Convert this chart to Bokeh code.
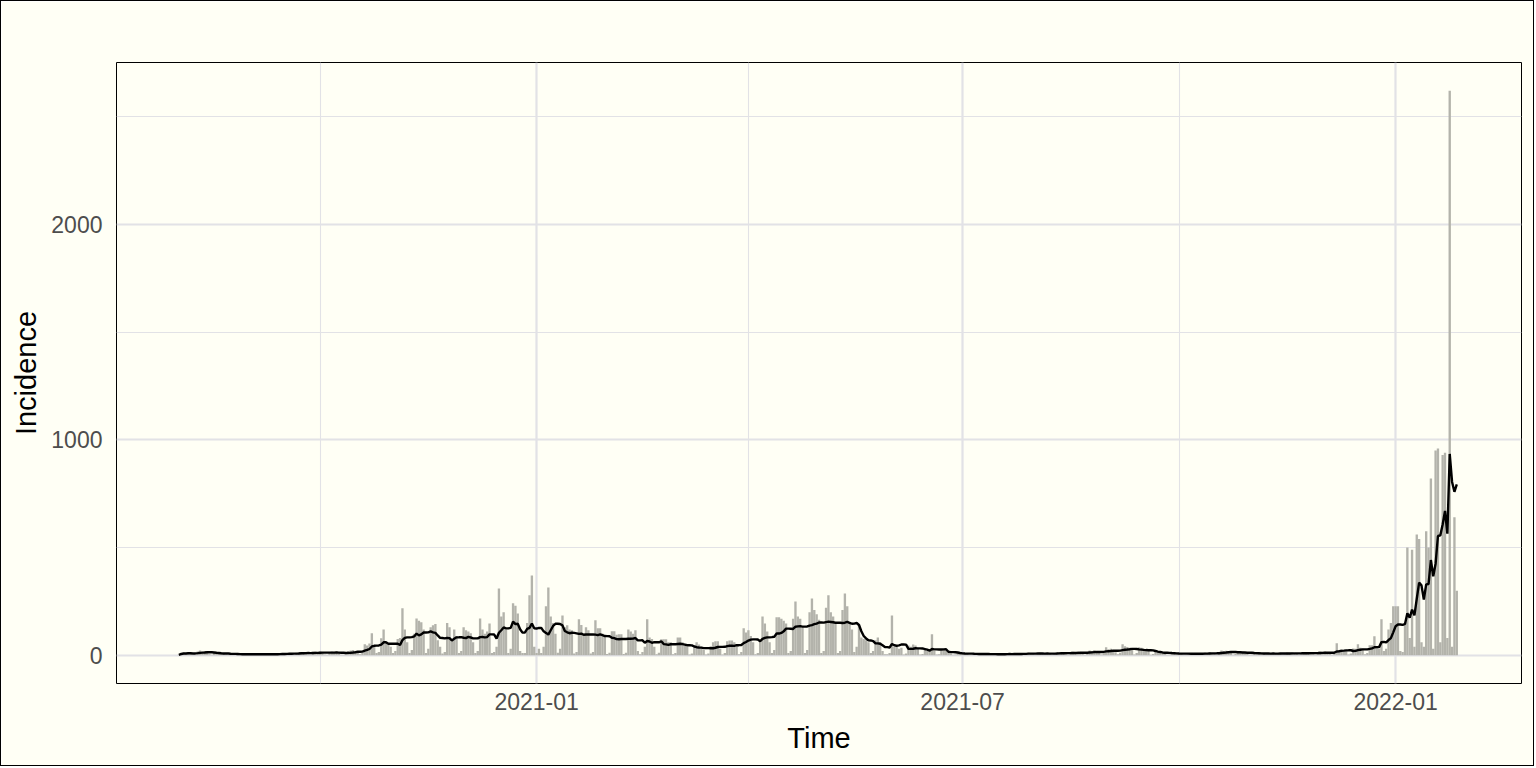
import pandas as pd
from bokeh.plotting import figure
from bokeh.models import FixedTicker, DatetimeTickFormatter, Range1d, ColumnDataSource
from bokeh.embed import file_html
from bokeh.resources import INLINE

# Daily incidence, first day 2020-08-02 (Sun..Sat)
first_day = "2020-08-02"
inc_2020_aug_oct = [
    2, 10, 12, 9, 14, 8, 3,   4, 18, 22, 16, 20, 15, 5,   2, 12, 10, 11, 9, 10, 3,
    1, 7, 6, 8, 5, 6, 2,      1, 6, 8, 5, 7, 6, 1,        2, 7, 6, 7, 6, 5, 2,
    1, 9, 11, 8, 10, 9, 2,    3, 12, 15, 14, 13, 11, 4,   2, 16, 18, 14, 17, 15, 4,
    3, 15, 17, 16, 18, 12, 3, 3, 5, 20, 22, 25, 20, 18,   5, 10, 51, 45, 55, 102, 40,
    10, 15, 79, 120, 60, 50, 40,
]
inc_2020_nov_dec = [
    10, 20, 75, 80, 218, 120, 60,    10, 25, 100, 171, 160, 153, 120,
    10, 30, 130, 139, 145, 70, 40,   8, 15, 150, 130, 70, 120, 90,
    10, 20, 130, 116, 110, 102, 60,  10, 20, 171, 120, 100, 110, 148,
    10, 15, 40, 310, 180, 200, 120,  10, 30, 241, 230, 194, 20, 10,
    10, 150, 278, 370, 40, 10, 30,
]
inc_2021_jan_mar = [
    10, 40, 227, 315, 180, 150, 100,  12, 30, 185, 130, 139, 120, 116,
    8, 15, 167, 140, 100, 130, 116,   8, 15, 162, 125, 125, 100, 90,
    6, 12, 111, 111, 95, 97, 97,      6, 12, 120, 110, 100, 116, 20,
    5, 15, 40, 167, 83, 75, 40,       5, 12, 74, 74, 74, 60, 60,
    5, 10, 83, 83, 60, 45, 40,        4, 8, 45, 60, 50, 40, 25,
    4, 8, 42, 60, 65, 65, 30,         4, 10, 65, 69, 69, 60, 50,
    5, 15, 125, 106, 116, 90, 60,
]
inc_2021_apr_jun = [
    5, 10, 70, 180, 148, 110, 60,     10, 25, 176, 176, 170, 160, 148,
    10, 20, 170, 250, 180, 170, 130,  10, 25, 200, 264, 210, 190, 165,
    10, 20, 220, 278, 200, 180, 150,  10, 20, 210, 287, 227, 150, 120,
    15, 40, 144, 83, 75, 70, 60,      10, 20, 70, 83, 60, 20, 5,
    5, 10, 185, 40, 45, 30, 35,       4, 8, 45, 40, 50, 45, 32,
    4, 6, 25, 20, 18, 97, 20,         4, 5, 23, 25, 23, 15, 8,
    2, 4, 12, 10, 11, 9, 6,
]
inc_2021_jul_sep = [
    1, 3, 9, 8, 7, 8, 5,      1, 2, 7, 6, 8, 6, 4,      1, 3, 8, 9, 7, 8, 5,
    2, 4, 11, 10, 12, 9, 7,   2, 5, 12, 9, 11, 10, 6,   2, 5, 14, 13, 15, 12, 9,
    3, 6, 16, 15, 18, 14, 10, 3, 8, 22, 20, 24, 18, 12, 4, 10, 37, 28, 30, 25, 14,
    5, 12, 51, 42, 38, 35, 25, 4, 10, 37, 35, 30, 28, 20, 3, 6, 18, 15, 16, 14, 10,
    2, 4, 12, 10, 11, 9, 7,
]
inc_2021_oct_dec = [
    2, 3, 10, 9, 10, 8, 6,     2, 4, 13, 12, 14, 10, 8,    3, 7, 22, 20, 21, 18, 14,
    3, 6, 18, 16, 17, 14, 10,  2, 4, 12, 11, 12, 9, 6,     2, 4, 11, 12, 10, 10, 7,
    2, 4, 13, 12, 13, 11, 8,   2, 5, 15, 13, 14, 12, 9,    3, 6, 18, 16, 17, 14, 10,
    3, 6, 56, 25, 28, 22, 20,  4, 8, 32, 30, 51, 35, 30,   5, 10, 46, 46, 88, 40, 30,
    167, 20, 30, 120, 150, 227, 227,
]
inc_2022_jan = [
    227, 20, 15, 150, 500, 80, 490,
    40, 560, 540, 60, 40, 575, 500,
    820, 30, 950, 960, 60, 930, 940,
    80, 2620, 40, 640, 300,
]

incidence = (inc_2020_aug_oct + inc_2020_nov_dec + inc_2021_jan_mar + inc_2021_apr_jun
             + inc_2021_jul_sep + inc_2021_oct_dec + inc_2022_jan)

x_major = ["2021-01-01", "2021-07-01", "2022-01-01"]
x_minor = ["2020-10-01", "2021-04-01", "2021-10-01"]
y_major = [0, 1000, 2000]
y_minor = [500, 1500, 2500]

dates = pd.date_range(first_day, periods=len(incidence), freq="D")
avg7 = pd.Series(incidence, dtype=float).rolling(7, min_periods=1).mean()
src = ColumnDataSource(dict(date=dates, inc=incidence, avg=avg7.values))

bg = "#fffff5"
p = figure(width=1534, height=766, output_backend="svg", toolbar_location=None,
           x_axis_type="datetime",
           x_range=Range1d(pd.Timestamp("2020-07-06 12:00"), pd.Timestamp("2022-02-23 12:00")),
           y_range=Range1d(-131, 2751),
           min_border_left=115, min_border_right=14, min_border_top=61, min_border_bottom=84,
           background_fill_color=bg, border_fill_color=bg)
p.styles = {"border": "1px solid black"}
p.outline_line_color = "black"
p.outline_line_width = 1

def ms(s):
    return pd.Timestamp(s).value // 10**6

xt = FixedTicker(ticks=[ms(s) for s in x_major], minor_ticks=[ms(s) for s in x_minor])
yt = FixedTicker(ticks=y_major, minor_ticks=y_minor)
p.xaxis.ticker = xt
p.yaxis.ticker = yt
p.xgrid.ticker = xt
p.ygrid.ticker = yt
p.xaxis.formatter = DatetimeTickFormatter(days="%Y-%m", months="%Y-%m", years="%Y-%m")

grid_col = "#e2e2e6"
for g in (p.xgrid, p.ygrid):
    g.grid_line_color = grid_col
    g.grid_line_width = 2.2
    g.minor_grid_line_color = grid_col
    g.minor_grid_line_width = 1.1

for ax in (p.xaxis, p.yaxis):
    ax.axis_line_color = None
    ax.major_tick_line_color = None
    ax.minor_tick_line_color = None
    ax.major_tick_out = 0
    ax.minor_tick_out = 0
    ax.major_label_text_font = "Liberation Sans"
    ax.major_label_text_font_size = "23px"
    ax.major_label_text_color = "#4d4d4d"
    ax.axis_label_text_font = "Liberation Sans"
    ax.axis_label_text_font_size = "29px"
    ax.axis_label_text_font_style = "normal"
    ax.axis_label_text_color = "black"

p.xaxis.axis_label = "Time"
p.yaxis.axis_label = "Incidence"
p.xaxis.major_label_standoff = 9
p.xaxis.axis_label_standoff = 9
p.yaxis.major_label_standoff = 14
p.yaxis.axis_label_standoff = 6

p.vbar(x="date", top="inc", width=86400000, source=src,
       fill_color="#b3b3ab", line_color=None)
p.line(x="date", y="avg", source=src, line_color="black", line_width=2.4)

open("out.html", "w").write(file_html(p, INLINE))
